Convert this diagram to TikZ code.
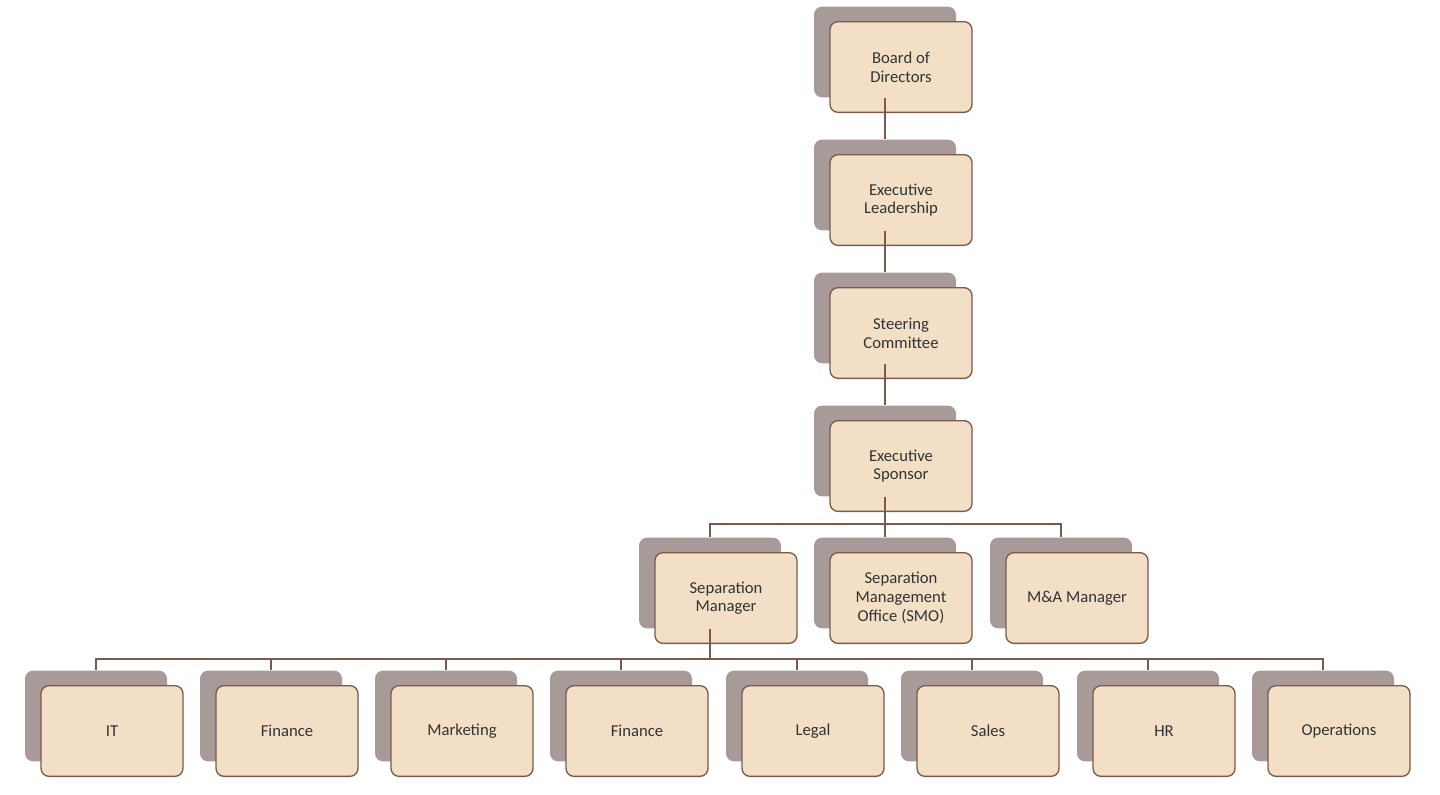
\documentclass[tikz,border=0pt]{standalone}
\usepackage{fontspec}
\setmainfont{Carlito}
\definecolor{sh}{HTML}{A89A98}
\definecolor{fr}{HTML}{F2DFC5}
\definecolor{ed}{HTML}{7A5A4C}
\definecolor{tx}{HTML}{333333}
\begin{document}
\begin{tikzpicture}[x=0.75pt,y=-0.75pt,
  shbox/.style={rounded corners=6pt,fill=sh,draw=none,minimum width=106.5pt,minimum height=68pt,inner sep=0pt},
  frbox/.style={rounded corners=6pt,fill=fr,draw=ed,line width=1pt,minimum width=106.5pt,minimum height=68pt,align=center,font=\fontsize{12.5}{14}\selectfont,text=tx,inner sep=2pt},
  conn/.style={draw=ed,line width=1.3pt}]
\useasboundingbox (0,0) rectangle (1440,794);
% name, front center x, center y, text
\foreach \n/\x/\y/\t in {bod/901/67/{Board of\\Directors},el/901/200/{Executive\\Leadership},sc/901/333/{Steering\\Committee},es/901/466/{Executive\\Sponsor},sm/726/598/{Separation\\Manager},smo/901/598/{Separation\\Management\\Office (SMO)},ma/1077/598/{M\&A Manager},
  it/112/731/IT,fi/287/731/Finance,mk/462/731/Marketing,fb/637/731/Finance,lg/813/731/Legal,sa/988/731/Sales,hr/1164/731/HR,op/1339/731/Operations}{
  \node[shbox] (\n s) at (\x-16,\y-15) {};
  \node[frbox] (\n) at (\x,\y) {\t};
}
\draw[conn] (bods.south) -- (els.north);
\draw[conn] (els.south) -- (scs.north);
\draw[conn] (scs.south) -- (ess.north);
\coordinate (b1) at (0,524);
\draw[conn] (ess.south) -- (ess.south |- b1);
\draw[conn] (sms.north) |- (b1 -| smos.north) -| (mas.north);
\draw[conn] (smos.north) -- (smos.north |- b1);
\coordinate (b2) at (0,659);
\draw[conn] (sms.south) -- (sms.south |- b2);
\draw[conn] (its.north) |- (b2 -| ops.north) -- (ops.north);
\foreach \n in {fi,mk,fb,lg,sa,hr}{\draw[conn] (\n s.north) -- (\n s.north |- b2);}
\end{tikzpicture}
\end{document}
